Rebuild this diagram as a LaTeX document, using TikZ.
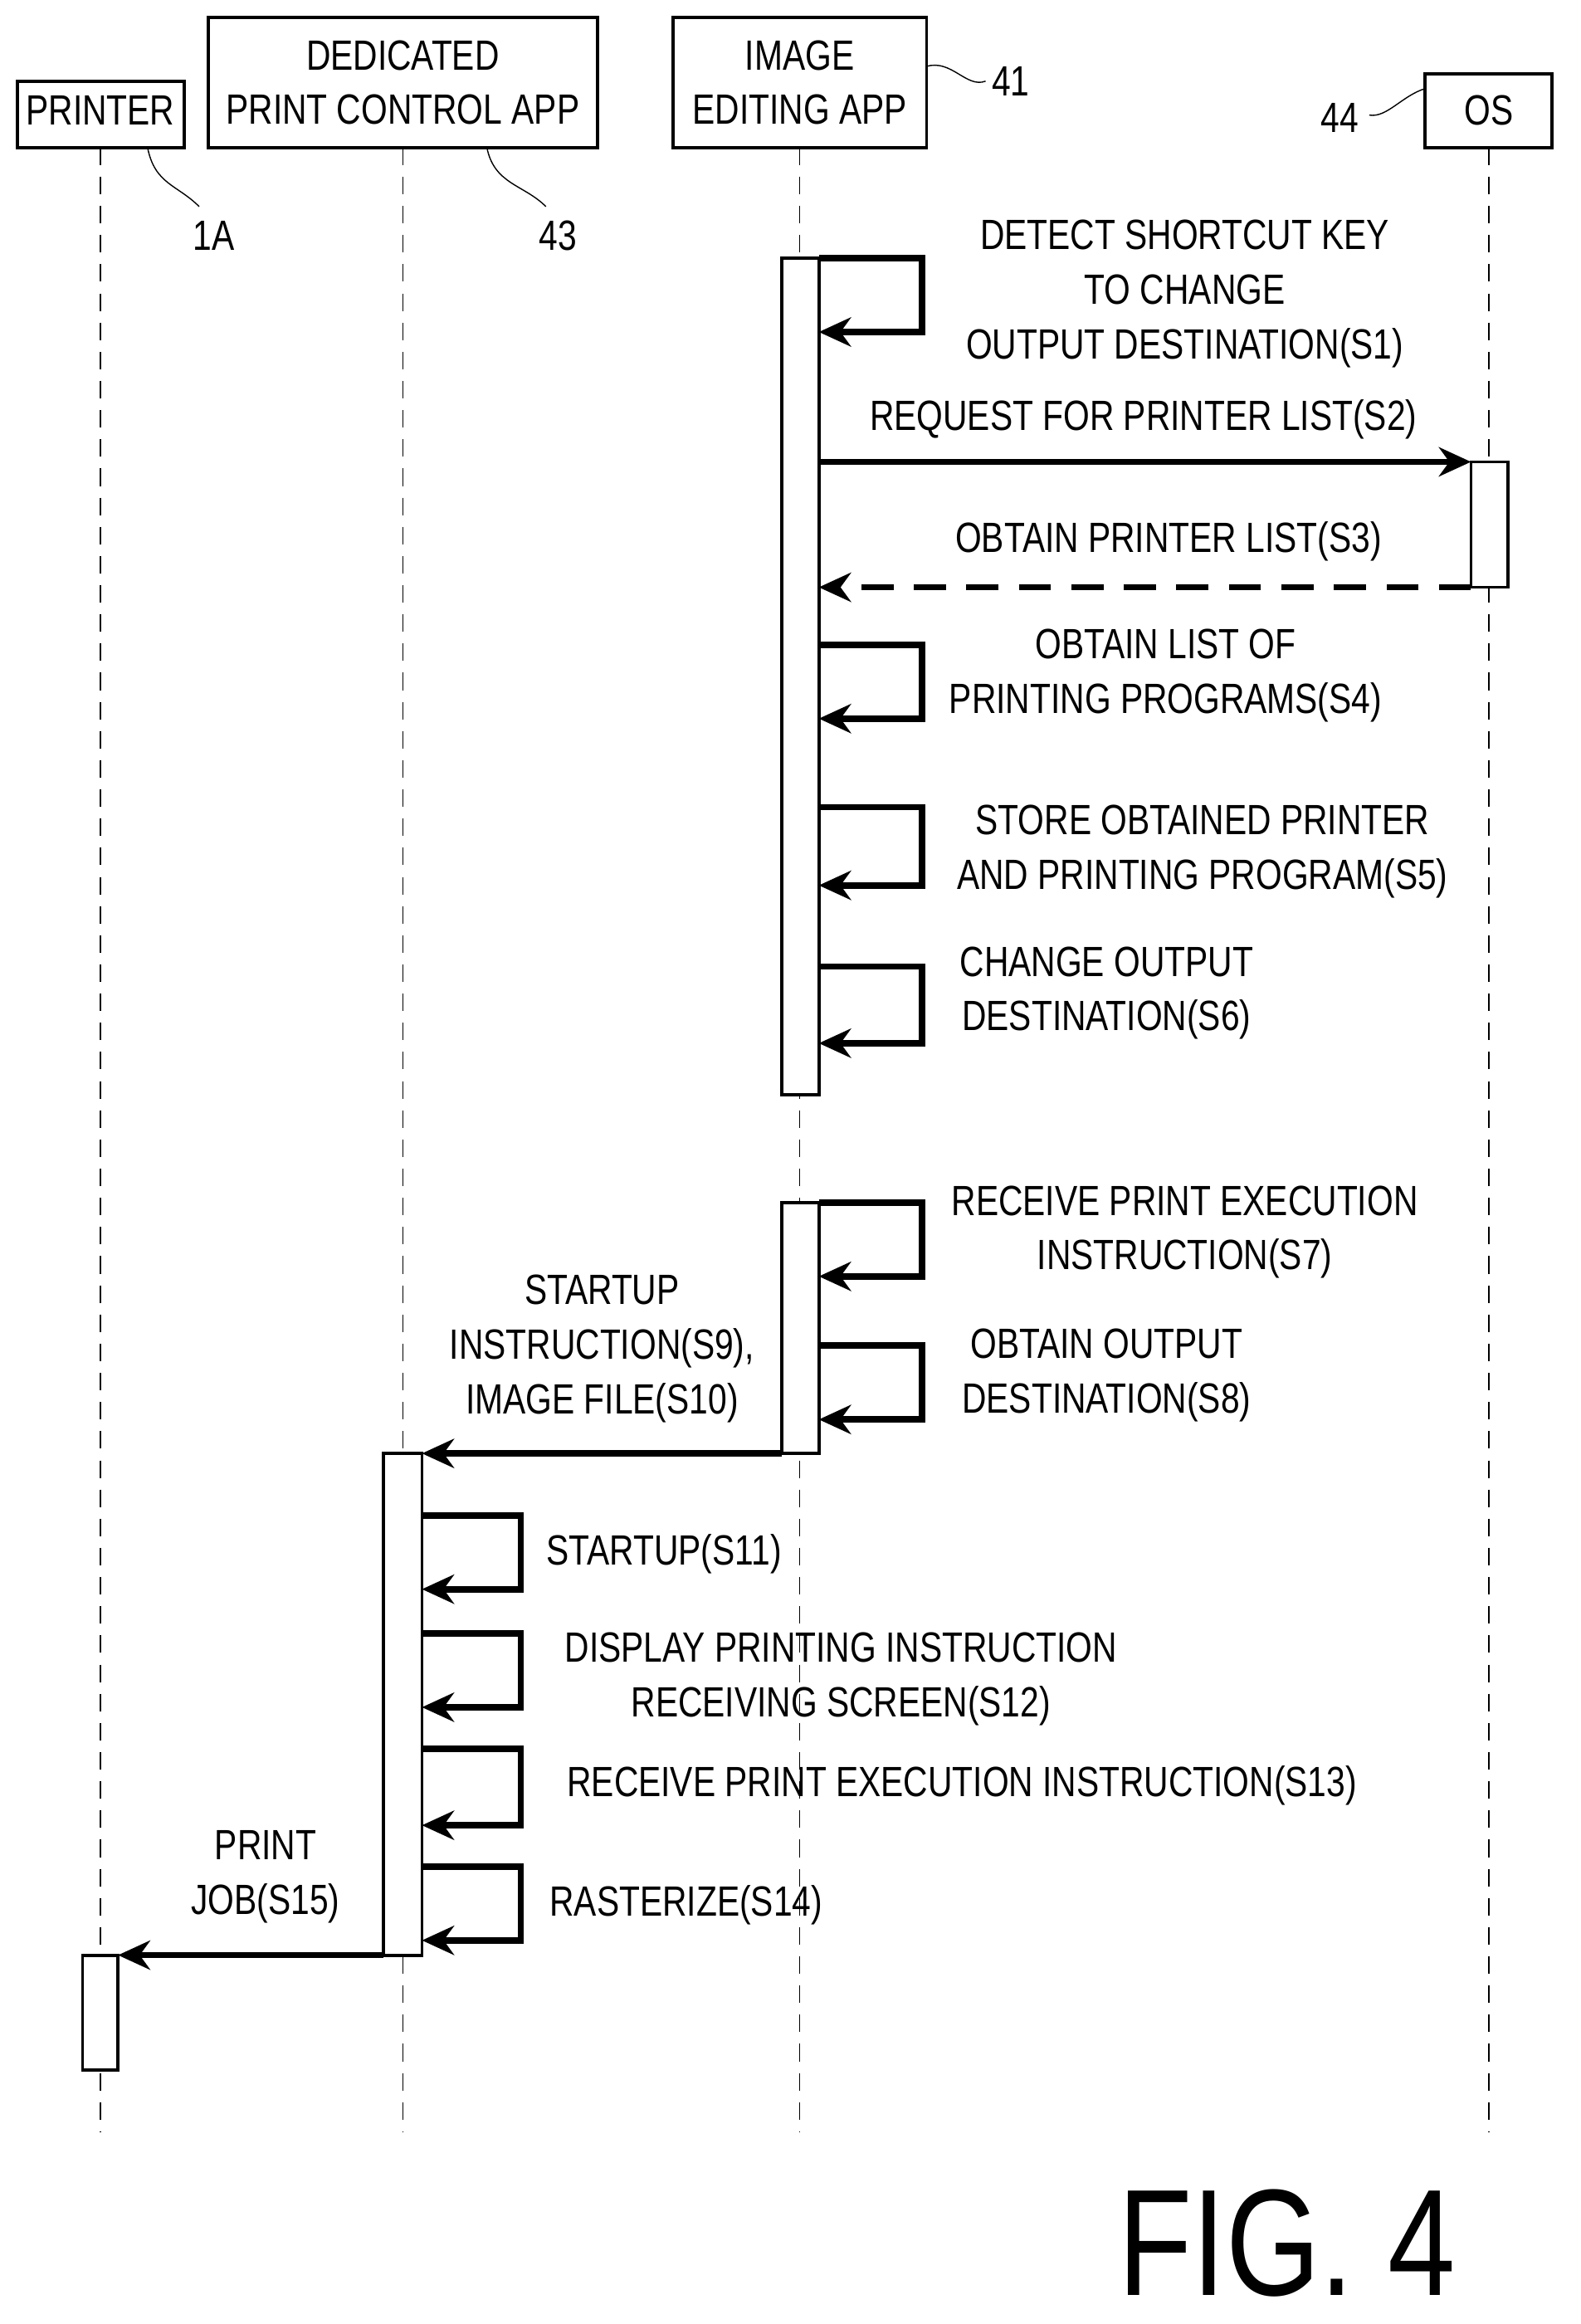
\documentclass[tikz,border=0pt]{standalone}
\usepackage{fontspec}
\setmainfont{Liberation Sans}[FakeStretch=0.8]
\usepackage{tikz}
\usetikzlibrary{arrows.meta,positioning}
\tikzstyle{bar}=[draw, line width=1.1pt, fill=white]
\tikzstyle{msg}=[line width=2.2pt, -{Stealth[length=11pt,width=10pt]}]
\tikzstyle{ret}=[msg, dashed, dash pattern=on 11pt off 7pt]
\tikzstyle{lbl}=[align=center, font=\fontsize{14.5}{18.7}\selectfont]
\tikzstyle{life}=[thin, dash pattern=on 6pt off 4pt]
\begin{document}
\begin{tikzpicture}[x=0.01778cm, y=-0.01778cm]
\useasboundingbox (0,0) rectangle (1071,1575);
%Actors
\draw[line width=1.1pt] (12,55) rectangle (125,100);
\node[lbl] (pr) at (68,75){PRINTER};
\draw[line width=1.1pt] (141,12) rectangle (405,100);
\node[lbl] (dp) at (273,56){DEDICATED\\PRINT CONTROL APP};
\draw[line width=1.1pt] (456,12) rectangle (628,100);
\node[lbl] (ie) at (542,56){IMAGE\\EDITING APP};
\draw[line width=1.1pt] (966,50) rectangle (1052,100);
\node[lbl] (os) at (1009,75){OS};
%Lifelines
\foreach \x in {68,273,542,1009}
  \draw[life] (\x,100) -- (\x,1445);
%Reference numbers
\node[lbl] (r1a) at (145,160){1A};
\draw (100,100) .. controls (105,125) and (120,125) .. (135,140);
\node[lbl] (r43) at (378,160){43};
\draw (330,100) .. controls (335,125) and (355,125) .. (370,140);
\node[lbl] (r41) at (685,55){41};
\draw (628,45) .. controls (645,40) and (655,60) .. (668,55);
\node[lbl] (r44) at (908,80){44};
\draw (966,60) .. controls (950,65) and (940,80) .. (928,78);
%Bars
\draw[bar] (530,175) rectangle (555,742);
\draw[bar] (997,313) rectangle (1022,398);
\draw[bar] (530,815) rectangle (555,985);
\draw[bar] (260,985) rectangle (286,1325);
\draw[bar] (56,1325) rectangle (80,1403);
%Self messages
\foreach \ya/\yb in {175/225,437/487,547/600,655/707,815/865,912/962}
  \draw[msg] (555,\ya) -- (625,\ya) -- (625,\yb) -- (555,\yb);
\foreach \ya/\yb in {1027/1077,1107/1157,1185/1237,1265/1315}
  \draw[msg] (286,\ya) -- (353,\ya) -- (353,\yb) -- (286,\yb);
%Messages
\coordinate (ie2) at (555,313); \coordinate (os2) at (997,313);
\draw[msg] (ie2) -- (os2);
\coordinate (os3) at (997,398); \coordinate (ie3) at (555,398);
\draw[ret] (os3) -- (ie3);
\coordinate (ie9) at (530,985); \coordinate (dp9) at (286,985);
\draw[msg] (ie9) -- (dp9);
\coordinate (dp15) at (260,1325); \coordinate (pr15) at (80,1325);
\draw[msg] (dp15) -- (pr15);
%Labels
\node[lbl] (s1) at (803,199){DETECT SHORTCUT KEY\\TO CHANGE\\OUTPUT DESTINATION(S1)};
\node[lbl] (s2) at (775,284){REQUEST FOR PRINTER LIST(S2)};
\node[lbl] (s3) at (792,367){OBTAIN PRINTER LIST(S3)};
\node[lbl] (s4) at (790,458){OBTAIN LIST OF\\PRINTING PROGRAMS(S4)};
\node[lbl] (s5) at (815,577){STORE OBTAINED PRINTER\\AND PRINTING PROGRAM(S5)};
\node[lbl] (s6) at (750,673){CHANGE OUTPUT\\DESTINATION(S6)};
\node[lbl] (s7) at (803,835){RECEIVE PRINT EXECUTION\\INSTRUCTION(S7)};
\node[lbl] (s8) at (750,932){OBTAIN OUTPUT\\DESTINATION(S8)};
\node[lbl] (s9) at (408,914){STARTUP\\INSTRUCTION(S9),\\IMAGE FILE(S10)};
\node[lbl] (s11) at (450,1053){STARTUP(S11)};
\node[lbl] (s12) at (570,1138){DISPLAY PRINTING INSTRUCTION\\RECEIVING SCREEN(S12)};
\node[lbl] (s13) at (652,1210){RECEIVE PRINT EXECUTION INSTRUCTION(S13)};
\node[lbl] (s14) at (465,1291){RASTERIZE(S14)};
\node[lbl] (s15) at (180,1272){PRINT\\JOB(S15)};
\node[font=\fontsize{52}{58}\selectfont] (fig) at (872,1520){FIG. 4};
\end{tikzpicture}
\end{document}
